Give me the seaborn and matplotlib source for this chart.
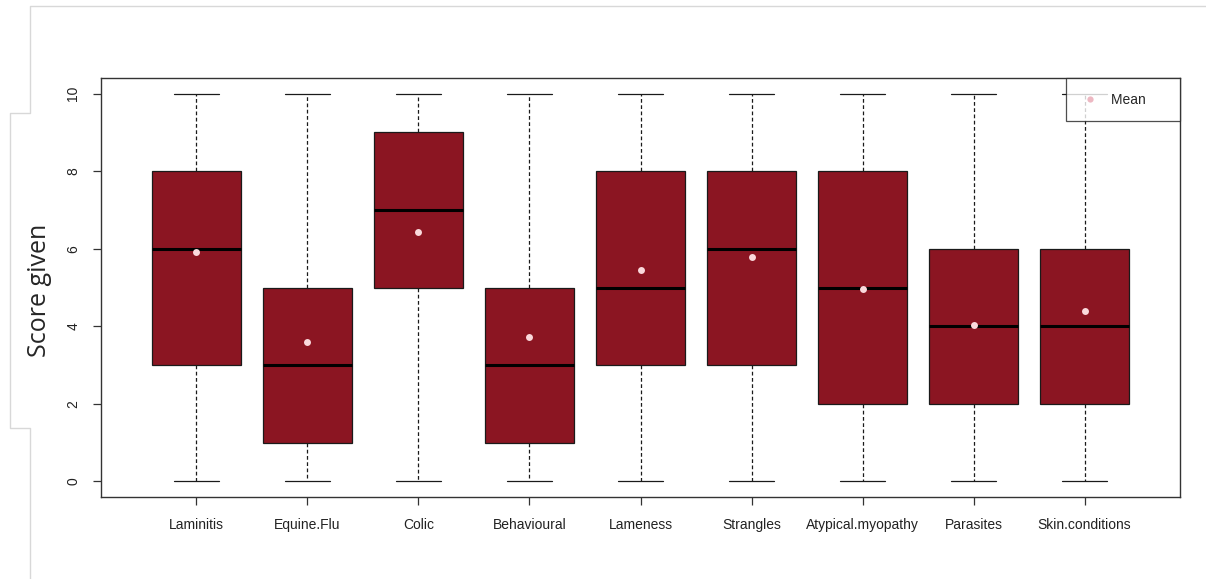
import numpy as np
import pandas as pd
import matplotlib
matplotlib.use("Agg")
import matplotlib.pyplot as plt
from matplotlib.lines import Line2D
import seaborn as sns

# five-number summaries (min, Q1, median, Q3, max) + mean
categories = ["Laminitis", "Equine.Flu", "Colic", "Behavioural", "Lameness",
              "Strangles", "Atypical.myopathy", "Parasites", "Skin.conditions"]
mins = [0, 0, 0, 0, 0, 0, 0, 0, 0]
q1 = [3, 1, 5, 1, 3, 3, 2, 2, 2]
medians = [6, 3, 7, 3, 5, 6, 5, 4, 4]
q3 = [8, 5, 9, 5, 8, 8, 8, 6, 6]
maxs = [10, 10, 10, 10, 10, 10, 10, 10, 10]
means = [5.91, 3.60, 6.43, 3.73, 5.45, 5.78, 4.96, 4.04, 4.40]

# long table: the five summary values per category
rows = []
for i, c in enumerate(categories):
    for v in (mins[i], q1[i], medians[i], q3[i], maxs[i]):
        rows.append({"Disease": c, "Score": v})
df = pd.DataFrame(rows)

sns.set_style("white")
plt.rcParams["font.family"] = ["Liberation Sans", "DejaVu Sans"]

fig = plt.figure(figsize=(12.06, 5.79), dpi=100)
ax = fig.add_axes([101 / 1206, 1 - 497 / 579, (1180 - 101) / 1206, (497 - 78) / 579])

box_red = "#8B1522"
sns.boxplot(
    data=df, x="Disease", y="Score", order=categories,
    color=box_red, saturation=1, width=0.8, whis=[0, 100],
    linecolor="#1a1a1a", linewidth=0.9, ax=ax,
    whiskerprops={"linestyle": (0, (3, 2)), "linewidth": 0.9},
    medianprops={"color": "black", "linewidth": 2.2},
    capprops={"linewidth": 0.9},
)

mean_col = "#FAD9DC"
sns.stripplot(x=categories, y=means, order=categories, jitter=False,
              color=mean_col, size=5, linewidth=0, ax=ax, zorder=5)

ax.set_xlim(-0.86, 8.86)
ax.set_ylim(-0.4, 10.4)
ax.set_yticks([0, 2, 4, 6, 8, 10])
ax.set_yticklabels(["0", "2", "4", "6", "8", "10"], rotation=90, va="center")
ax.set_xlabel("")
ax.set_ylabel("")
ax.tick_params(axis="both", direction="out", length=6, width=0.9,
               color="#333333", labelsize=10, labelcolor="#222222",
               left=True, bottom=True)
ax.tick_params(axis="x", pad=9)
ax.tick_params(axis="y", pad=9)
for s in ax.spines.values():
    s.set_color("#333333")
    s.set_linewidth(1.0)

handle = Line2D([], [], marker="o", linestyle="", color="#EDB8C2",
                markersize=4.5, markeredgewidth=0)
leg = ax.legend(handles=[handle], labels=["Mean     "], loc="upper right",
                frameon=True, fancybox=False, fontsize=10,
                borderpad=1.05, handletextpad=0.9, borderaxespad=0,
                handlelength=1.3)
leg.get_frame().set_edgecolor("#222222")
leg.get_frame().set_linewidth(0.9)

fig.text(40 / 1206, 1 - 290 / 579, "Score given", rotation=90,
         ha="center", va="center", fontsize=18, family=["Open Sans", "DejaVu Sans"])

# faint frame around the pasted figure
frame = "#d8d8d8"
W, H = 1206, 579
pts = [(W, 6), (30, 6), (30, 113), (10, 113), (10, 428), (30, 428), (30, H)]
xs = [p[0] / W for p in pts]
ys = [1 - p[1] / H for p in pts]
fig.add_artist(Line2D(xs, ys, color=frame, linewidth=1.0, transform=fig.transFigure))

fig.savefig("out.png", dpi=100)
